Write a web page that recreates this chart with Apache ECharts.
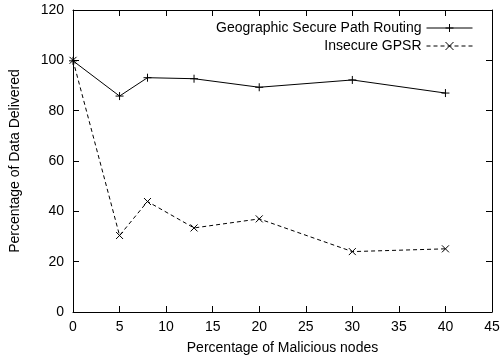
<!DOCTYPE html>
<html>
<head>
<meta charset="utf-8">
<script src="https://cdn.jsdelivr.net/npm/echarts@6/dist/echarts.min.js"></script>
<style>
  html, body { margin: 0; padding: 0; background: #fff; }
  #chart { width: 504px; height: 362px; }
</style>
</head>
<body>
<div id="chart"></div>
<script>
// values
const maliciousPct = [0, 5, 8, 13, 20, 30, 40];
const secureDelivered = [99.8, 85.8, 93.1, 92.7, 89.3, 92.2, 87.0];
const insecureDelivered = [100, 30.4, 43.9, 33.4, 37.0, 24.0, 25.1];

const FONT = "Liberation Sans, Arial, sans-serif";
const plusSym = "path://M0,-1L0,1M-1,0L1,0";
const crossSym = "path://M-1,-1L1,1M-1,1L1,-1";

const chart = echarts.init(document.getElementById("chart"), null, { renderer: "canvas" });

const tickStyle = { inside: true, length: 6, lineStyle: { color: "#000", width: 1 } };
const lineAxis = { show: true, onZero: false, lineStyle: { color: "#000", width: 1 } };

chart.setOption({
  animation: false,
  textStyle: { fontFamily: FONT },
  grid: { left: 73, right: 12, top: 10, bottom: 50 },
  legend: {
    orient: "vertical",
    right: 26,
    top: 16,
    align: "right",
    itemWidth: 46,
    itemHeight: 10,
    itemGap: 4,
    itemStyle: { borderWidth: 1 },
    lineStyle: { width: 1 },
    textStyle: { fontSize: 14, color: "#000", fontFamily: FONT },
    data: ["Geographic Secure Path Routing", "Insecure GPSR"],
  },
  xAxis: [
    {
      type: "value",
      min: 0,
      max: 45,
      interval: 5,
      name: "Percentage of Malicious nodes",
      nameLocation: "middle",
      nameGap: 29,
      nameTextStyle: { fontSize: 14, color: "#000" },
      axisLine: lineAxis,
      axisTick: tickStyle,
      axisLabel: { fontSize: 14, color: "#000", margin: 8 },
      splitLine: { show: false },
    },
    {
      type: "value",
      position: "top",
      min: 0,
      max: 45,
      interval: 5,
      axisLine: lineAxis,
      axisTick: tickStyle,
      axisLabel: { show: false },
      splitLine: { show: false },
    },
  ],
  yAxis: [
    {
      type: "value",
      min: 0,
      max: 120,
      interval: 20,
      name: "Percentage of Data Delivered",
      nameLocation: "middle",
      nameGap: 51,
      nameTextStyle: { fontSize: 14, color: "#000" },
      axisLine: lineAxis,
      axisTick: tickStyle,
      axisLabel: { fontSize: 14, color: "#000", margin: 9 },
      splitLine: { show: false },
    },
    {
      type: "value",
      position: "right",
      min: 0,
      max: 120,
      interval: 20,
      axisLine: lineAxis,
      axisTick: tickStyle,
      axisLabel: { show: false },
      splitLine: { show: false },
    },
  ],
  series: [
    {
      name: "Geographic Secure Path Routing",
      type: "line",
      data: maliciousPct.map((x, i) => [x, secureDelivered[i]]),
      symbol: plusSym,
      symbolSize: 8,
      showAllSymbol: true,
      lineStyle: { color: "#000", width: 1 },
      itemStyle: { color: "#000", borderColor: "#000", borderWidth: 1 },
    },
    {
      name: "Insecure GPSR",
      type: "line",
      data: maliciousPct.map((x, i) => [x, insecureDelivered[i]]),
      symbol: crossSym,
      symbolSize: 7,
      showAllSymbol: true,
      lineStyle: { color: "#000", width: 1, type: [4, 3] },
      itemStyle: { color: "#000", borderColor: "#000", borderWidth: 1 },
    },
  ],
});
</script>
</body>
</html>
